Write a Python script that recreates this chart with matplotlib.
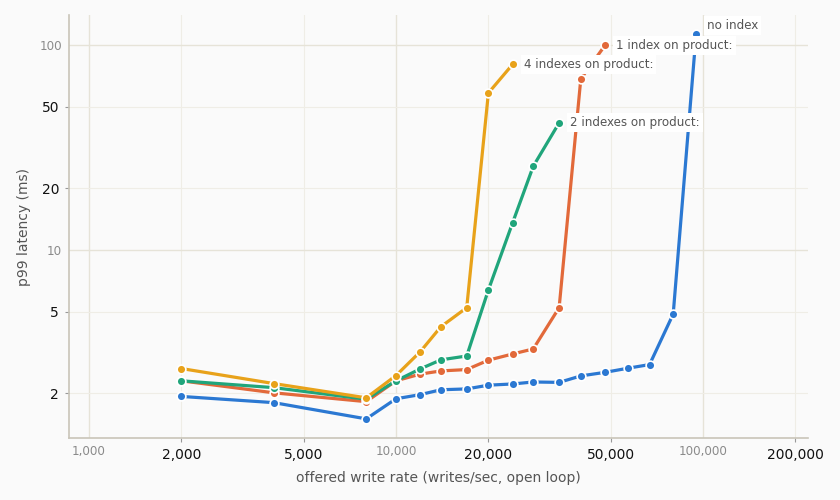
import matplotlib
matplotlib.use('Agg')
import matplotlib.pyplot as plt
import matplotlib.ticker as mticker

# offered write rate (writes/sec)
rate_low = [2000, 4000, 8000, 10000, 12000, 14000, 17000]
rate_no_index = rate_low + [20000, 24000, 28000, 34000, 40000, 48000, 57000, 67000, 80000, 95000]
rate_1_index = rate_low + [20000, 24000, 28000, 34000, 40000, 48000]
rate_2_indexes = rate_low + [20000, 24000, 28000, 34000]
rate_4_indexes = rate_low + [20000, 24000]

# p99 latency (ms)
p99_no_index = [1.93, 1.80, 1.50, 1.88, 1.97, 2.08, 2.10, 2.19, 2.22, 2.27, 2.26, 2.43, 2.53, 2.65, 2.76, 4.87, 113]
p99_1_index = [2.30, 2.01, 1.82, 2.30, 2.48, 2.57, 2.61, 2.90, 3.11, 3.29, 5.23, 68.3, 99.7]
p99_2_indexes = [2.30, 2.13, 1.87, 2.30, 2.63, 2.91, 3.04, 6.38, 13.6, 25.6, 41.7]
p99_4_indexes = [2.64, 2.23, 1.90, 2.44, 3.19, 4.22, 5.23, 58.3, 80.5]

series = [
    ('no index', rate_no_index, p99_no_index, '#2b78d2'),
    ('1 index on product:', rate_1_index, p99_1_index, '#e2693a'),
    ('2 indexes on product:', rate_2_indexes, p99_2_indexes, '#20a57b'),
    ('4 indexes on product:', rate_4_indexes, p99_4_indexes, '#e8a21a'),
]
label_offsets = {
    'no index': (8, 6.5),
    '1 index on product:': (8, 0),
    '2 indexes on product:': (8, 0),
    '4 indexes on product:': (8, 0),
}

bg = '#fafafa'
fig = plt.figure(figsize=(8.4, 5.0), dpi=100, facecolor=bg)
ax = fig.add_axes([0.082, 0.124, 0.88, 0.846], facecolor=bg)

for name, x, y, color in series:
    ax.plot(x, y, color=color, lw=2.3, marker='o', ms=6.3,
            markeredgecolor='white', markeredgewidth=1.2, zorder=3)

# labels next to the last point of each series, drawn after all lines
for name, x, y, color in series:
    ax.annotate(name, (x[-1], y[-1]), xytext=label_offsets[name],
                textcoords='offset points', fontsize=8.6, color='#555555',
                va='center', ha='left', zorder=5,
                bbox=dict(boxstyle='square,pad=0.25', fc='white', ec='none'))

ax.set_xscale('log')
ax.set_yscale('log')
ax.set_xlim(860, 220000)
ax.set_ylim(1.21, 140)

fmt = mticker.FuncFormatter(lambda v, p: f'{v:,.0f}')
ax.xaxis.set_major_locator(mticker.FixedLocator([1000, 10000, 100000]))
ax.xaxis.set_minor_locator(mticker.FixedLocator([2000, 5000, 20000, 50000, 200000]))
ax.xaxis.set_major_formatter(fmt)
ax.xaxis.set_minor_formatter(fmt)
ax.yaxis.set_major_locator(mticker.FixedLocator([10, 100]))
ax.yaxis.set_minor_locator(mticker.FixedLocator([2, 5, 20, 50]))
ax.yaxis.set_major_formatter(fmt)
ax.yaxis.set_minor_formatter(fmt)

ax.tick_params(which='major', length=0, labelsize=8.6, labelcolor='#8a8a8a', pad=5)
ax.tick_params(which='minor', length=3, width=0.8, color='#999999',
               labelsize=10, labelcolor='#111111', pad=4)

ax.grid(which='major', color='#e6e3d8', lw=1.0)
ax.grid(which='minor', color='#efede6', lw=0.8)
ax.set_axisbelow(True)

for side in ['top', 'right']:
    ax.spines[side].set_visible(False)
for side in ['left', 'bottom']:
    ax.spines[side].set_color('#c9c5b9')
    ax.spines[side].set_linewidth(1.2)

ax.set_xlabel('offered write rate (writes/sec, open loop)', fontsize=10, color='#555555', labelpad=7)
ax.set_ylabel('p99 latency (ms)', fontsize=10, color='#555555', labelpad=6)

fig.savefig('out.png', dpi=100, facecolor=bg)
